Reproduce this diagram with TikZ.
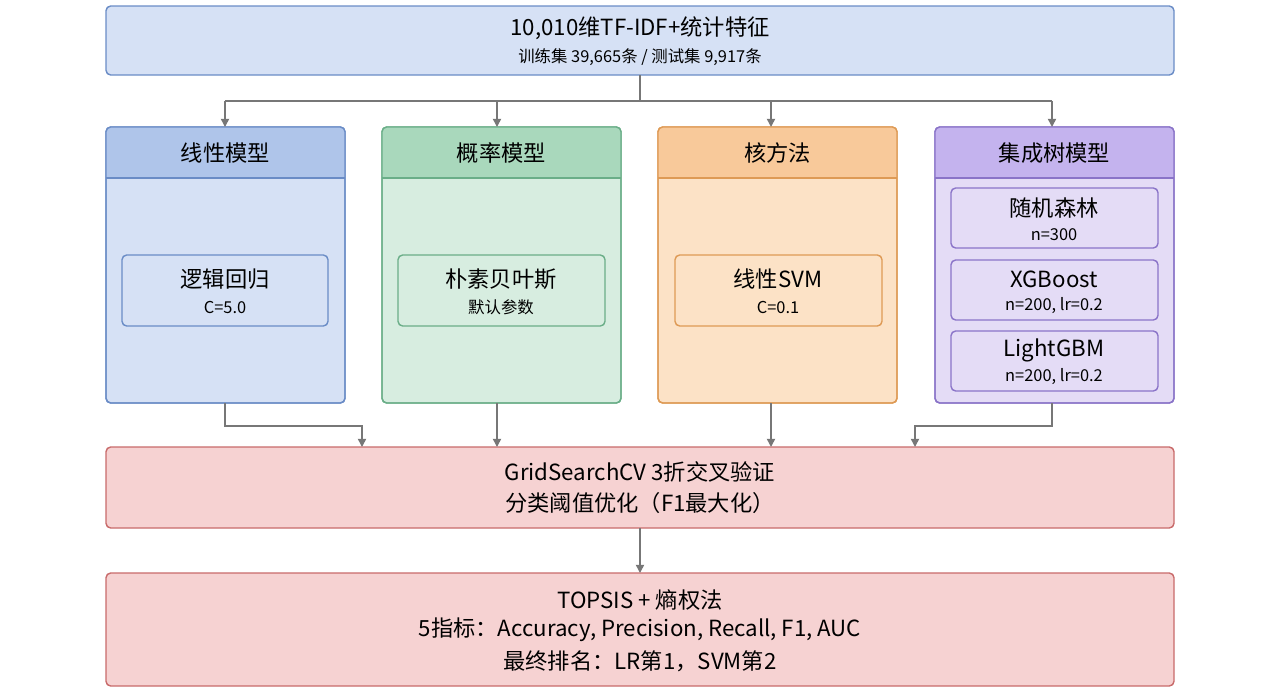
\documentclass[tikz,border=0pt]{standalone}
\usepackage{fontspec}
\setmainfont{Noto Sans CJK SC}
\usetikzlibrary{arrows.meta}
\definecolor{bF}{HTML}{D6E1F5}\definecolor{bH}{HTML}{AFC5EA}\definecolor{bD}{HTML}{6A8CC6}
\definecolor{gF}{HTML}{D7EDE0}\definecolor{gH}{HTML}{A9D8BC}\definecolor{gD}{HTML}{6AAE88}
\definecolor{oF}{HTML}{FCE2C6}\definecolor{oH}{HTML}{F8C99A}\definecolor{oD}{HTML}{DE9A55}
\definecolor{pF}{HTML}{E4DCF6}\definecolor{pH}{HTML}{C4B3EE}\definecolor{pD}{HTML}{8A74C8}
\definecolor{rF}{HTML}{F6D2D2}\definecolor{rD}{HTML}{C86A6A}
\definecolor{ln}{HTML}{777777}
\tikzset{x=0.03cm,y=-0.03cm,
 box/.style={draw=#1,line width=1.2pt,rounded corners=4pt},
 arr/.style={draw=ln,line width=1.3pt,-{Triangle[length=7pt,width=7pt]}},
 t/.style={font=\fontsize{19}{22}\selectfont},
 s/.style={font=\fontsize{14}{16}\selectfont}}
\begin{document}
\begin{tikzpicture}
\useasboundingbox (0,0) rectangle (1280,698);
% top
\draw[box=bD,fill=bF] (106,6) rectangle (1174,75);
\node[t] (top) at (640,28) {10,010维TF-IDF+统计特征};
\node[s] at (640,57) {训练集 39,665条 / 测试集 9,917条};
\coordinate (tb) at (640,75);
% groups
\foreach \x/\f/\h/\d/\lab/\n in {106/bF/bH/bD/线性模型/g1,382/gF/gH/gD/概率模型/g2,658/oF/oH/oD/核方法/g3,935/pF/pH/pD/集成树模型/g4}{
 \draw[box=\d,fill=\f] (\x,127) rectangle (\x+239,403);
 \begin{scope}
 \clip[rounded corners=4pt] (\x,127) rectangle (\x+239,403);
 \fill[\h] (\x,127) rectangle (\x+239,178);
 \end{scope}
 \draw[\d,line width=1.2pt] (\x,178) -- (\x+239,178);
 \draw[box=\d] (\x,127) rectangle (\x+239,403);
 \node[t] at (\x+119.5,153) {\lab};
}
\coordinate (g1t) at (225,127);\coordinate (g2t) at (497,127);\coordinate (g3t) at (771,127);\coordinate (g4t) at (1052,127);
\coordinate (g1b) at (225,403);\coordinate (g2b) at (497,403);\coordinate (g3b) at (771,403);\coordinate (g4b) at (1052,403);
% inner
\draw[box=bD,fill=bF] (122,255) rectangle (328,326);
\node[t] at (225,279) {逻辑回归}; \node[s] at (225,307) {C=5.0};
\draw[box=gD,fill=gF] (398,255) rectangle (605,326);
\node[t] at (501,279) {朴素贝叶斯}; \node[s] at (501,307) {默认参数};
\draw[box=oD,fill=oF] (675,255) rectangle (882,326);
\node[t] at (778,279) {线性SVM}; \node[s] at (778,307) {C=0.1};
\draw[box=pD,fill=pF] (951,188) rectangle (1158,248);
\node[t] at (1054,208) {随机森林}; \node[s] at (1054,235) {n=300};
\draw[box=pD,fill=pF] (951,260) rectangle (1158,320);
\node[t] at (1054,279) {XGBoost}; \node[s] at (1054,306) {n=200, lr=0.2};
\draw[box=pD,fill=pF] (951,331) rectangle (1158,391);
\node[t] at (1054,350) {LightGBM}; \node[s] at (1054,377) {n=200, lr=0.2};
% CV
\draw[box=rD,fill=rF] (106,447) rectangle (1174,528);
\node[t] (cv) at (640,472) {GridSearchCV 3折交叉验证};
\node[t] at (640,503) {分类阈值优化（F1最大化）};
\coordinate (cvt) at (640,447);\coordinate (cvb) at (640,528);
\coordinate (c1) at (362,447);\coordinate (c4) at (915,447);
% TOPSIS
\draw[box=rD,fill=rF] (106,573) rectangle (1174,686);
\node[t] (tp) at (640,600) {TOPSIS + 熵权法};
\node[t] at (640,630) {5指标：Accuracy, Precision, Recall, F1, AUC};
\node[t] at (640,661) {最终排名：LR第1，SVM第2};
\coordinate (tpt) at (640,573);
% connectors
\draw[ln,line width=1.3pt] (tb) -- (640,101) (225,101) -- (1052,101);
\foreach \g in {g1t,g2t,g3t,g4t} \draw[arr] (\g|-0,101) -- (\g);
\draw[arr] (g1b) -- (225,426) -| (c1);
\draw[arr] (g2b) -- (g2b|-cvt);
\draw[arr] (g3b) -- (g3b|-cvt);
\draw[arr] (g4b) -- (1052,426) -| (c4);
\draw[arr] (cvb) -- (tpt);
\end{tikzpicture}
\end{document}
